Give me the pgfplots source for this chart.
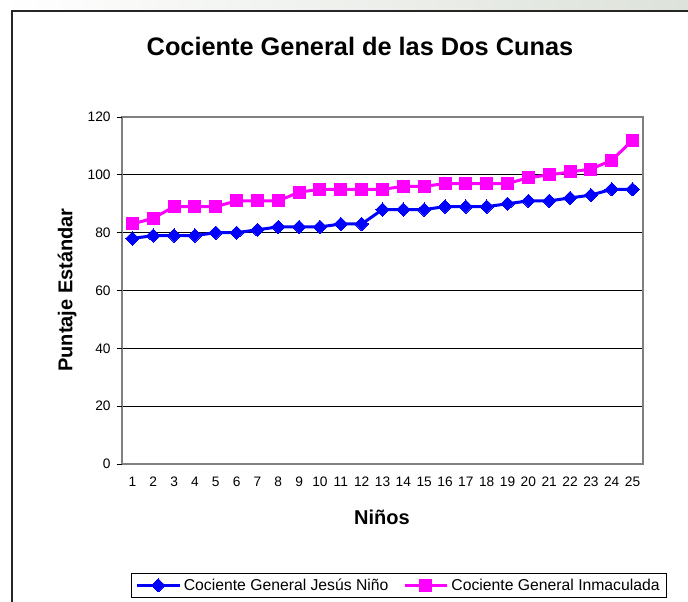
\documentclass[border=0pt]{standalone}
\usepackage{pgfplots}
\pgfplotsset{compat=1.18}
\usepackage{fontspec}
\setmainfont{Liberation Sans}
\definecolor{bandgray}{RGB}{221,226,218}
\definecolor{axgray}{RGB}{128,128,128}
\definecolor{pblue}{RGB}{0,0,255}
\definecolor{pmag}{RGB}{255,0,255}
\begin{document}
\begin{tikzpicture}[x=1pt,y=1pt]
\useasboundingbox (0,0) rectangle (516,450.75);
\shade[left color=white, right color=bandgray] (0,442.5) rectangle (516,450.75);
\draw[line width=1.5pt, black!85] (9,-5) -- (9,442.5) -- (525,442.5);
\node[font=\fontsize{19}{22}\selectfont\bfseries] at (270,416.25) {Cociente General de las Dos Cunas};
\node[font=\fontsize{15}{18}\selectfont\bfseries] at (286.5,63) {Niños};
\node[font=\fontsize{15}{18}\selectfont\bfseries, rotate=90] at (50.25,233.25) {Puntaje Estándar};
\begin{axis}[
  at={(91.5pt,102.75pt)}, anchor=south west,
  scale only axis, width=390.75pt, height=260.25pt,
  xmin=0.5, xmax=25.5, ymin=0, ymax=120,
  xtick={1,...,25},
  minor xtick={0.5,1.5,...,25.5},
  ytick={0,20,...,120},
  xtick pos=bottom, ytick pos=left,
  major tick length=0pt,
  minor tick length=4pt,
  xtick style={draw=none},
  extra y ticks={0,20,...,120}, extra y tick labels={},
  extra y tick style={major tick length=4pt, tick align=outside, grid=none, tick style={black, line width=0.6pt}},
  minor tick style={black, line width=0.6pt},
  tick align=outside,
  ymajorgrids,
  grid style={black, line width=0.75pt},
  axis line style={axgray, line width=1.5pt},
  /pgf/number format/assume math mode=true,
  tick label style={font=\fontsize{10.3}{12}\selectfont},
  xticklabel style={yshift=-6pt},
  yticklabel style={xshift=-5pt},
  legend columns=2,
  legend cell align=left,
  legend style={at={(0.0173,-0.386)}, anchor=south west, draw=black, line width=0.75pt,
    inner xsep=3pt, inner ysep=2pt,
    font=\fontsize{11.8}{13}\selectfont,
    /tikz/every even column/.append style={column sep=9pt}},
  legend image code/.code={\draw[#1, mark repeat=2, mark phase=2] plot coordinates {(0pt,0pt)(16pt,0pt)(32pt,0pt)};},
]
\addplot[color=pblue, line width=2.25pt, mark=diamond*, mark size=5pt, mark options={xscale=1.35, line width=0pt, fill=pblue}]
coordinates {(1,78)(2,79)(3,79)(4,79)(5,80)(6,80)(7,81)(8,82)(9,82)(10,82)(11,83)(12,83)(13,88)(14,88)(15,88)(16,89)(17,89)(18,89)(19,90)(20,91)(21,91)(22,92)(23,93)(24,95)(25,95)};
\addlegendentry{Cociente General Jesús Niño}
\addplot[color=pmag, line width=2.25pt, mark=square*, mark size=4.5pt, mark options={line width=0pt, fill=pmag}]
coordinates {(1,83)(2,85)(3,89)(4,89)(5,89)(6,91)(7,91)(8,91)(9,94)(10,95)(11,95)(12,95)(13,95)(14,96)(15,96)(16,97)(17,97)(18,97)(19,97)(20,99)(21,100)(22,101)(23,102)(24,105)(25,112)};
\addlegendentry{Cociente General Inmaculada}
\end{axis}
\end{tikzpicture}
\end{document}
